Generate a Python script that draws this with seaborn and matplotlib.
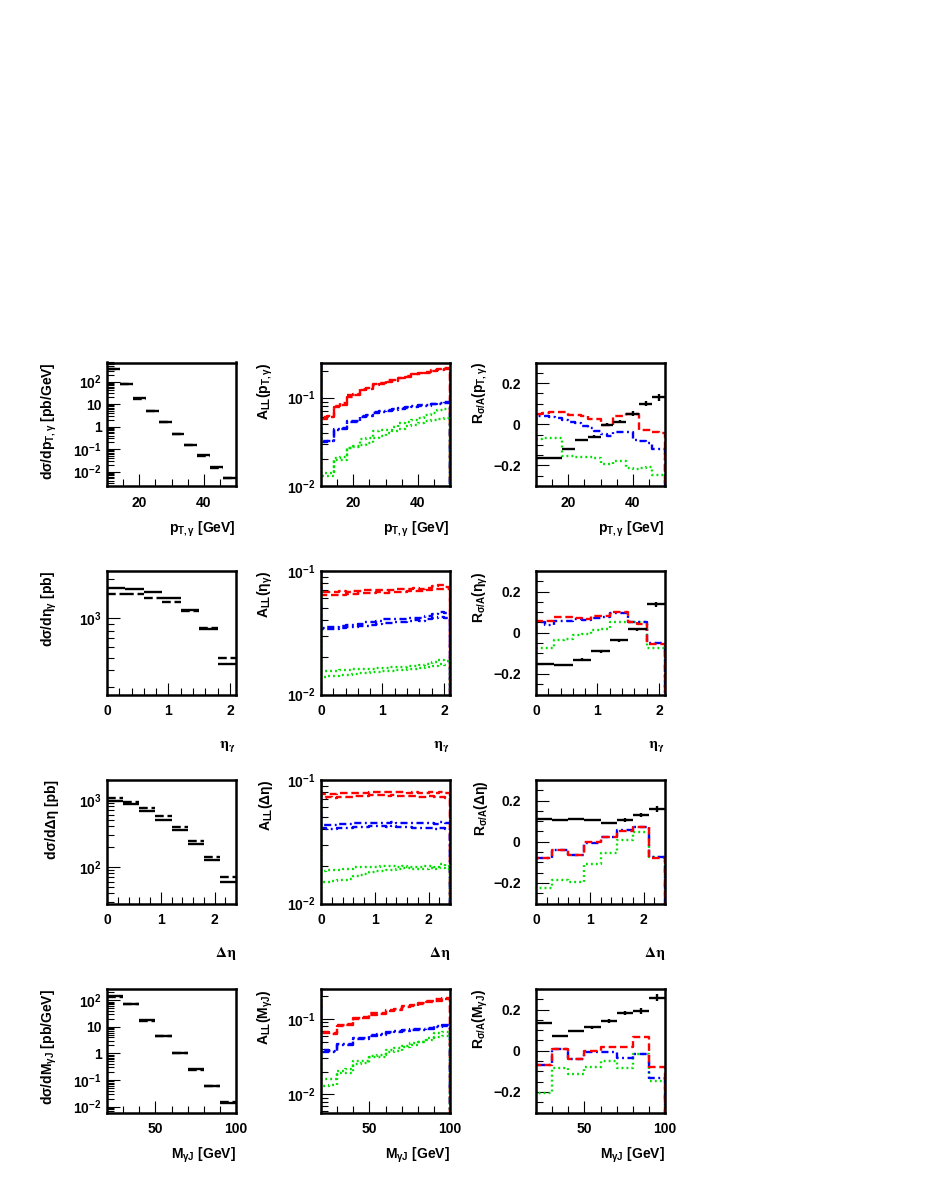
import numpy as np
import pandas as pd
import matplotlib
matplotlib.use("Agg")
import matplotlib.pyplot as plt
import seaborn as sns
from matplotlib.ticker import FixedLocator, MultipleLocator, LogLocator, NullFormatter

sns.set_style("white")
plt.rcParams.update({
    "font.family": ["Liberation Sans", "DejaVu Sans"],
    "font.weight": "bold",
    "font.size": 10,
    "mathtext.fontset": "custom",
    "mathtext.rm": "Liberation Sans:bold",
    "mathtext.it": "Liberation Sans:bold",
    "mathtext.bf": "Liberation Sans:bold",
    "mathtext.sf": "Liberation Sans:bold",
    "axes.linewidth": 1.8,
    "axes.edgecolor": "black",
    "axes.labelcolor": "black",
    "text.color": "black",
    "xtick.color": "black",
    "ytick.color": "black",
    "xtick.bottom": True,
    "ytick.left": True,
    "axes.unicode_minus": True,
})

# ---------------- data ----------------
# row 1 : photon transverse momentum
pt_edges = [10, 14, 18, 22, 26, 30, 34, 38, 42, 46, 50]
pt_edges_fine = [10, 12, 14, 16, 18, 20, 22, 24, 26, 28, 30, 32, 34, 36, 38, 40, 42, 44, 46, 48, 50]
pt_sigma_solid = [370, 76, 18, 4.9, 1.6, 0.49, 0.155, 0.052, 0.0155, 0.0052]
pt_sigma_dash = [355, 74, 17.5, 4.7, 1.55, 0.475, 0.15, 0.050, 0.0150, 0.0050]
pt_all_red_a = [0.060, 0.0614, 0.081, 0.087, 0.108, 0.110, 0.126, 0.129, 0.143, 0.147,
                0.157, 0.160, 0.168, 0.178, 0.187, 0.191, 0.194, 0.205, 0.212, 0.215]
pt_all_red_b = [0.057, 0.060, 0.078, 0.083, 0.103, 0.108, 0.121, 0.125, 0.140, 0.143,
                0.152, 0.156, 0.165, 0.172, 0.183, 0.186, 0.190, 0.198, 0.206, 0.210]
pt_all_blue_a = [0.0324, 0.0326, 0.0441, 0.0452, 0.0538, 0.0548, 0.0614, 0.0641, 0.068, 0.070,
                 0.073, 0.0743, 0.0764, 0.0784, 0.0798, 0.0819, 0.0833, 0.0855, 0.0871, 0.0885]
pt_all_blue_b = [0.0315, 0.0320, 0.0430, 0.0440, 0.0525, 0.0535, 0.0600, 0.0625, 0.0665, 0.0685,
                 0.0715, 0.0730, 0.0750, 0.0770, 0.0785, 0.0800, 0.0815, 0.0840, 0.0855, 0.0870]
pt_all_green_a = [0.0139, 0.0139, 0.0206, 0.0215, 0.0268, 0.028, 0.0339, 0.0348, 0.0414, 0.0433,
                  0.0433, 0.0464, 0.0516, 0.0525, 0.0562, 0.0588, 0.0641, 0.067, 0.073, 0.0743]
pt_all_green_b = [0.0130, 0.0130, 0.0198, 0.0198, 0.0268, 0.0273, 0.0292, 0.0305, 0.0348, 0.0364,
                  0.0397, 0.0414, 0.0441, 0.0472, 0.0493, 0.0516, 0.0538, 0.0552, 0.0573, 0.0588]
pt_r_black = [-0.165, -0.162, -0.118, -0.076, -0.060, -0.003, 0.013, 0.052, 0.100, 0.130]
pt_r_err = [0.004, 0.004, 0.005, 0.005, 0.006, 0.007, 0.009, 0.011, 0.013, 0.016]
pt_r_red = [0.052, 0.055, 0.060, 0.060, 0.058, 0.045, 0.044, 0.040, 0.025, 0.025,
            -0.003, -0.003, 0.040, 0.042, 0.052, 0.050, -0.026, -0.026, -0.036, -0.042]
pt_r_blue = [0.040, 0.038, 0.035, 0.030, 0.020, 0.012, 0.005, -0.010, -0.020, -0.032,
             -0.045, -0.058, -0.036, -0.036, -0.040, -0.078, -0.080, -0.090, -0.121, -0.121]
pt_r_green = [-0.070, -0.068, -0.065, -0.065, -0.155, -0.155, -0.160, -0.160, -0.160, -0.165,
              -0.195, -0.195, -0.180, -0.180, -0.212, -0.215, -0.212, -0.208, -0.245, -0.245]

# row 2 : photon pseudorapidity
eta_edges = [0.0, 0.3, 0.6, 0.9, 1.2, 1.5, 1.8, 2.1]
eta_edges_fine = [0.0, 0.1, 0.2, 0.3, 0.4, 0.5, 0.6, 0.7, 0.8, 0.9, 1.0, 1.1, 1.2, 1.3, 1.4,
                  1.5, 1.6, 1.7, 1.8, 1.9, 2.0, 2.1]
eta_edges_mid = [0.0, 0.15, 0.3, 0.45, 0.6, 0.75, 0.9, 1.05, 1.2, 1.35, 1.5, 1.65, 1.8, 1.95, 2.1]
eta_sigma_solid = [1687, 1668, 1592, 1418, 1157, 830, 449]
eta_sigma_dash = [1520, 1520, 1435, 1322, 1137, 840, 495]
eta_all_red_a = [0.0676, 0.0672, 0.0680, 0.0685, 0.0682, 0.0690, 0.0695, 0.0700, 0.0698, 0.0703, 0.0701,
                 0.0708, 0.0712, 0.0710, 0.0718, 0.0722, 0.0715, 0.0735, 0.0750, 0.0765, 0.0745]
eta_all_red_b = [0.0635, 0.0640, 0.0638, 0.0645, 0.0650, 0.0655, 0.0660, 0.0658, 0.0665, 0.0670, 0.0668,
                 0.0675, 0.0672, 0.0680, 0.0685, 0.0690, 0.0695, 0.0700, 0.0710, 0.0718, 0.0712]
eta_all_blue_a = [0.0347, 0.0350, 0.0355, 0.0358, 0.0362, 0.0368, 0.0375, 0.0385, 0.0390, 0.0395, 0.0406,
                  0.0405, 0.0410, 0.0412, 0.0415, 0.0420, 0.0418, 0.0430, 0.0445, 0.0465, 0.0455]
eta_all_blue_b = [0.0337, 0.0339, 0.0342, 0.0345, 0.0350, 0.0352, 0.0358, 0.0360, 0.0365, 0.0372, 0.0381,
                  0.0378, 0.0385, 0.0390, 0.0392, 0.0398, 0.0395, 0.0405, 0.0415, 0.0426, 0.0420]
eta_all_green_a = [0.0155, 0.0154, 0.0156, 0.0157, 0.0158, 0.0160, 0.0160, 0.0161, 0.0162, 0.0164, 0.0165,
                   0.0166, 0.0167, 0.0168, 0.0169, 0.0170, 0.0172, 0.0176, 0.0182, 0.0190, 0.0188]
eta_all_green_b = [0.0139, 0.0140, 0.0142, 0.0143, 0.0145, 0.0146, 0.0148, 0.0149, 0.0151, 0.0153, 0.0155,
                   0.0156, 0.0157, 0.0159, 0.0160, 0.0162, 0.0163, 0.0166, 0.0170, 0.0175, 0.0174]
eta_r_black = [-0.154, -0.159, -0.130, -0.091, -0.037, 0.016, 0.138]
eta_r_err = [0.004, 0.004, 0.005, 0.006, 0.006, 0.008, 0.012]
eta_r_red = [0.055, 0.055, 0.078, 0.078, 0.072, 0.068, 0.080, 0.081, 0.100, 0.100, 0.052, 0.044, -0.057, -0.057]
eta_r_blue = [0.052, 0.037, 0.057, 0.057, 0.065, 0.062, 0.073, 0.075, 0.097, 0.097, 0.052, 0.052, -0.049, -0.049]
eta_r_green = [-0.073, -0.073, -0.035, -0.030, -0.010, -0.006, 0.014, 0.018, 0.052, 0.052, 0.052, 0.052, -0.073, -0.073]

# row 3 : rapidity difference
deta_edges = [0.0, 0.3, 0.6, 0.9, 1.2, 1.5, 1.8, 2.1, 2.4]
deta_edges_fine = [0.0, 0.1, 0.2, 0.3, 0.4, 0.5, 0.6, 0.7, 0.8, 0.9, 1.0, 1.1, 1.2, 1.3, 1.4, 1.5,
                   1.6, 1.7, 1.8, 1.9, 2.0, 2.1, 2.2, 2.3, 2.4]
deta_sigma_solid = [977, 862, 671, 505, 350, 222, 126, 59]
deta_sigma_dash = [1059, 923, 752, 567, 389, 246, 141, 70]
deta_all_red_a = [0.0770, 0.0772, 0.0775, 0.0778, 0.0780, 0.0785, 0.0790, 0.0792, 0.0791, 0.0795, 0.0793, 0.0796,
                  0.0795, 0.0798, 0.0794, 0.0797, 0.0792, 0.0795, 0.0790, 0.0788, 0.0795, 0.0785, 0.0800, 0.0790]
deta_all_red_b = [0.0720, 0.0722, 0.0718, 0.0725, 0.0728, 0.0730, 0.0740, 0.0745, 0.0748, 0.0750, 0.0752, 0.0750,
                  0.0748, 0.0752, 0.0745, 0.0748, 0.0740, 0.0738, 0.0735, 0.0730, 0.0740, 0.0725, 0.0735, 0.0720]
deta_all_blue_a = [0.0430, 0.0432, 0.0435, 0.0437, 0.0440, 0.0442, 0.0447, 0.0450, 0.0451, 0.0452, 0.0450, 0.0452,
                   0.0450, 0.0453, 0.0449, 0.0451, 0.0447, 0.0450, 0.0446, 0.0445, 0.0452, 0.0440, 0.0455, 0.0445]
deta_all_blue_b = [0.0405, 0.0402, 0.0400, 0.0405, 0.0408, 0.0410, 0.0415, 0.0418, 0.0420, 0.0422, 0.0421, 0.0423,
                   0.0420, 0.0422, 0.0418, 0.0420, 0.0415, 0.0412, 0.0410, 0.0408, 0.0405, 0.0400, 0.0410, 0.0400]
deta_all_green_a = [0.0185, 0.0186, 0.0187, 0.0188, 0.0190, 0.0192, 0.0196, 0.0197, 0.0198, 0.0198, 0.0199, 0.0200,
                    0.0201, 0.0200, 0.0199, 0.0200, 0.0198, 0.0197, 0.0199, 0.0200, 0.0202, 0.0198, 0.0210, 0.0200]
deta_all_green_b = [0.0150, 0.0149, 0.0152, 0.0154, 0.0156, 0.0158, 0.0168, 0.0170, 0.0172, 0.0180, 0.0182, 0.0184,
                    0.0186, 0.0188, 0.0192, 0.0193, 0.0194, 0.0192, 0.0190, 0.0191, 0.0193, 0.0190, 0.0195, 0.0192]
deta_r_black = [0.110, 0.106, 0.110, 0.106, 0.090, 0.106, 0.129, 0.158]
deta_r_err = [0.003, 0.003, 0.003, 0.004, 0.006, 0.008, 0.011, 0.015]
deta_r_red = [-0.081, -0.039, -0.065, -0.003, 0.021, 0.053, 0.074, -0.081]
deta_r_blue = [-0.078, -0.042, -0.063, -0.005, 0.024, 0.055, 0.072, -0.075]
deta_r_green = [-0.226, -0.185, -0.197, -0.108, -0.055, 0.010, 0.045, -0.076]

# row 4 : photon-jet invariant mass
m_edges = [20, 30, 40, 50, 60, 70, 80, 90, 100]
m_edges_fine = [20, 25, 30, 35, 40, 45, 50, 55, 60, 65, 70, 75, 80, 85, 90, 95, 100]
m_sigma_solid = [141, 73, 17.8, 4.47, 1.06, 0.25, 0.0596, 0.0141]
m_sigma_dash = [138, 71, 17.2, 4.35, 1.03, 0.245, 0.061, 0.0155]
m_all_red_a = [0.0667, 0.0653, 0.0838, 0.0855, 0.103, 0.106, 0.118, 0.120,
               0.133, 0.136, 0.147, 0.152, 0.163, 0.172, 0.181, 0.187]
m_all_red_b = [0.0640, 0.0630, 0.0810, 0.0830, 0.099, 0.102, 0.114, 0.117,
               0.129, 0.132, 0.143, 0.148, 0.158, 0.166, 0.175, 0.181]
m_all_blue_a = [0.0382, 0.0374, 0.0458, 0.0467, 0.056, 0.056, 0.062, 0.063,
                0.0667, 0.0688, 0.071, 0.0725, 0.074, 0.076, 0.080, 0.0817]
m_all_blue_b = [0.0365, 0.0360, 0.0445, 0.0450, 0.054, 0.054, 0.060, 0.061,
                0.0650, 0.0670, 0.069, 0.0705, 0.072, 0.074, 0.078, 0.0795]
m_all_green_a = [0.0158, 0.0160, 0.0203, 0.0218, 0.0280, 0.0280, 0.0325, 0.0330,
                 0.0390, 0.0410, 0.0438, 0.0483, 0.0495, 0.056, 0.065, 0.066]
m_all_green_b = [0.0129, 0.0131, 0.0194, 0.0190, 0.0254, 0.0258, 0.0310, 0.0310,
                 0.0362, 0.0370, 0.0425, 0.0446, 0.0495, 0.052, 0.058, 0.059]
m_r_black = [0.136, 0.073, 0.098, 0.114, 0.144, 0.184, 0.193, 0.258]
m_r_err = [0.004, 0.004, 0.005, 0.006, 0.008, 0.010, 0.014, 0.018]
m_r_red = [-0.069, 0.008, -0.041, 0.000, 0.016, 0.016, 0.065, -0.077]
m_r_blue = [-0.069, 0.008, -0.040, -0.005, -0.005, -0.033, -0.016, -0.131]
m_r_green = [-0.204, -0.082, -0.114, -0.077, -0.049, -0.086, -0.016, -0.147]

# ---------------- styles ----------------
RED, BLUE, GREEN = "#ff0000", "#0000ff", "#00e000"
LS_RED = (0, (3.2, 1.6))
LS_BLUE = (0, (3.0, 1.5, 0.8, 1.5))
LS_GREEN = (0, (0.8, 1.3))
LW = 1.7

W, H = 926, 1199
fig = plt.figure(figsize=(W / 100, H / 100), dpi=100)
col_left = [107, 321, 536]
row_top = [362.5, 571, 780, 989]
pw, ph = 129, 123.5


def make_ax(r, c):
    x0 = col_left[c] / W
    y0 = 1 - (row_top[r] + ph) / H
    return fig.add_axes([x0, y0, pw / W, ph / H])


def stairs(ax, edges, vals, start, end, color, ls):
    xs = [edges[0]] + list(edges) + [edges[-1]]
    ys = [start] + list(vals) + [vals[-1], end]
    df = pd.DataFrame({"x": xs, "y": ys})
    sns.lineplot(data=df, x="x", y="y", ax=ax, estimator=None, sort=False,
                 drawstyle="steps-post", color=color, linestyle=ls, lw=LW)


def style(ax, xlim, ylim, xmaj, xmin, logy=False):
    ax.set_xlim(*xlim)
    if logy:
        ax.set_yscale("log")
    ax.set_ylim(*ylim)
    ax.xaxis.set_major_locator(MultipleLocator(xmaj))
    ax.xaxis.set_minor_locator(MultipleLocator(xmin))
    ax.tick_params(which="both", direction="in", top=False, right=False,
                   bottom=True, left=True, width=0.8, color="k", labelsize=10,
                   labelcolor="k")
    ax.tick_params(which="major", length=9)
    ax.tick_params(which="minor", length=5)
    ax.tick_params(axis="x", pad=7)
    for lab in ax.get_xticklabels() + ax.get_yticklabels():
        lab.set_fontweight("bold")
    for sp in ax.spines.values():
        sp.set_linewidth(1.8)
        sp.set_color("k")


def log_ticks(ax, majors, labels):
    ax.yaxis.set_major_locator(FixedLocator(majors))
    ax.set_yticks(majors)
    ax.set_yticklabels(labels, fontweight="bold")
    ax.yaxis.set_minor_locator(LogLocator(base=10, subs=np.arange(2, 10), numticks=100))
    ax.yaxis.set_minor_formatter(NullFormatter())
    ax.tick_params(axis="y", pad=4)


def lin_ticks(ax):
    ax.yaxis.set_major_locator(FixedLocator([-0.2, 0.0, 0.2]))
    ax.set_yticks([-0.2, 0.0, 0.2])
    ax.set_yticklabels(["\u22120.2", "0", "0.2"], fontweight="bold")
    ax.yaxis.set_minor_locator(MultipleLocator(0.05))
    ax.tick_params(axis="y", pad=11)


def labels(ax, ylab, xlab, xlab_y, plain_x=False, ylab_x=-0.36):
    ax.set_ylabel(ylab, loc="top", fontsize=10, fontweight="bold")
    ax.yaxis.set_label_coords(ylab_x, 1.0)
    if plain_x:
        ax.set_xlabel(xlab, loc="right", fontsize=11, fontweight="normal", math_fontfamily="stix")
    else:
        ax.set_xlabel(xlab, loc="right", fontsize=10, fontweight="bold")
    ax.xaxis.set_label_coords(1.0, xlab_y)


rows = [
    dict(edges=pt_edges, fine=pt_edges_fine, s1=pt_sigma_solid, s2=pt_sigma_dash,
         all=[pt_all_red_a, pt_all_red_b, pt_all_blue_a, pt_all_blue_b, pt_all_green_a, pt_all_green_b],
         rfine=pt_edges_fine, rb=pt_r_black, re=pt_r_err, rr=pt_r_red, rbl=pt_r_blue, rg=pt_r_green,
         xlim=(10, 50), xmaj=20, xmin=5,
         ylim1=(0.0023, 700), maj1=[0.01, 0.1, 1, 10, 100],
         lab1=["$10^{-2}$", "$10^{-1}$", "1", "10", "$10^{2}$"],
         ylim2=(0.01, 0.25), maj2=[0.01, 0.1], lab2=["$10^{-2}$", "$10^{-1}$"],
         yl=["d\u03c3/d$p_{T,\u03b3}$ [pb/GeV]", "$A_{LL}(p_{T,\u03b3})$", "$R_{\u03c3/A}(p_{T,\u03b3})$"],
         xl="$p_{T,\u03b3}$ [GeV]", plain=False, xly=-0.275),
    dict(edges=eta_edges, fine=eta_edges_fine, s1=eta_sigma_solid, s2=eta_sigma_dash,
         all=[eta_all_red_a, eta_all_red_b, eta_all_blue_a, eta_all_blue_b, eta_all_green_a, eta_all_green_b],
         rfine=eta_edges_mid, rb=eta_r_black, re=eta_r_err, rr=eta_r_red, rbl=eta_r_blue, rg=eta_r_green,
         xlim=(0, 2.1), xmaj=1, xmin=0.2,
         ylim1=(262, 2285), maj1=[1000], lab1=["$10^{3}$"],
         ylim2=(0.01, 0.1), maj2=[0.01, 0.1], lab2=["$10^{-2}$", "$10^{-1}$"],
         yl=["d\u03c3/d$\u03b7_{\u03b3}$ [pb]", "$A_{LL}(\u03b7_{\u03b3})$", "$R_{\u03c3/A}(\u03b7_{\u03b3})$"],
         xl=r"$\mathrm{\eta_{\gamma}}$", plain=True, xly=-0.36),
    dict(edges=deta_edges, fine=deta_edges_fine, s1=deta_sigma_solid, s2=deta_sigma_dash,
         all=[deta_all_red_a, deta_all_red_b, deta_all_blue_a, deta_all_blue_b, deta_all_green_a, deta_all_green_b],
         rfine=deta_edges, rb=deta_r_black, re=deta_r_err, rr=deta_r_red, rbl=deta_r_blue, rg=deta_r_green,
         xlim=(0, 2.4), xmaj=1, xmin=0.2,
         ylim1=(28.2, 1982), maj1=[100, 1000], lab1=["$10^{2}$", "$10^{3}$"],
         ylim2=(0.01, 0.1), maj2=[0.01, 0.1], lab2=["$10^{-2}$", "$10^{-1}$"],
         yl=["d\u03c3/d\u0394\u03b7 [pb]", "$A_{LL}$(\u0394\u03b7)", "$R_{\u03c3/A}$(\u0394\u03b7)"],
         xl=r"$\mathrm{\Delta\eta}$", plain=True, xly=-0.34),
    dict(edges=m_edges, fine=m_edges_fine, s1=m_sigma_solid, s2=m_sigma_dash,
         all=[m_all_red_a, m_all_red_b, m_all_blue_a, m_all_blue_b, m_all_green_a, m_all_green_b],
         rfine=m_edges, rb=m_r_black, re=m_r_err, rr=m_r_red, rbl=m_r_blue, rg=m_r_green,
         xlim=(20, 100), xmaj=50, xmin=10,
         ylim1=(0.006, 266), maj1=[0.01, 0.1, 1, 10, 100],
         lab1=["$10^{-2}$", "$10^{-1}$", "1", "10", "$10^{2}$"],
         ylim2=(0.00573, 0.249), maj2=[0.01, 0.1], lab2=["$10^{-2}$", "$10^{-1}$"],
         yl=["d\u03c3/d$M_{\u03b3J}$ [pb/GeV]", "$A_{LL}(M_{\u03b3J})$", "$R_{\u03c3/A}(M_{\u03b3J})$"],
         xl="$M_{\u03b3J}$ [GeV]", plain=False, xly=-0.265),
]

for r, d in enumerate(rows):
    edges = np.array(d["edges"], dtype=float)
    centers = (edges[:-1] + edges[1:]) / 2
    halfw = (edges[1:] - edges[:-1]) / 2

    # --- cross section panel ---
    ax = make_ax(r, 0)
    ax.hlines(d["s2"], edges[:-1], edges[1:], colors="k", linestyles="--", lw=LW)
    ax.hlines(d["s1"], edges[:-1], edges[1:], colors="k", linestyles="-", lw=LW)
    style(ax, d["xlim"], d["ylim1"], d["xmaj"], d["xmin"], logy=True)
    log_ticks(ax, d["maj1"], d["lab1"])
    labels(ax, d["yl"][0], d["xl"], d["xly"], d["plain"], ylab_x=-0.37)

    # --- asymmetry panel ---
    ax = make_ax(r, 1)
    y0, y1 = d["ylim2"]
    cols = [(RED, LS_RED), (RED, LS_RED), (BLUE, LS_BLUE), (BLUE, LS_BLUE), (GREEN, LS_GREEN), (GREEN, LS_GREEN)]
    for vals, (c, ls) in zip(d["all"], cols):
        stairs(ax, d["fine"], vals, y1, y0, c, ls)
    style(ax, d["xlim"], d["ylim2"], d["xmaj"], d["xmin"], logy=True)
    log_ticks(ax, d["maj2"], d["lab2"])
    labels(ax, d["yl"][1], d["xl"], d["xly"], d["plain"])

    # --- ratio panel ---
    ax = make_ax(r, 2)
    stairs(ax, d["rfine"], d["rg"], 0.0, -0.3, GREEN, LS_GREEN)
    stairs(ax, d["rfine"], d["rbl"], 0.0, -0.3, BLUE, LS_BLUE)
    stairs(ax, d["rfine"], d["rr"], 0.0, -0.3, RED, LS_RED)
    ax.errorbar(centers, d["rb"], xerr=halfw, yerr=d["re"], fmt="none",
                ecolor="k", elinewidth=LW, capsize=0)
    style(ax, d["xlim"], (-0.3, 0.3), d["xmaj"], d["xmin"])
    lin_ticks(ax)
    labels(ax, d["yl"][2], d["xl"], d["xly"], d["plain"])

fig.savefig("out.png", dpi=100)
